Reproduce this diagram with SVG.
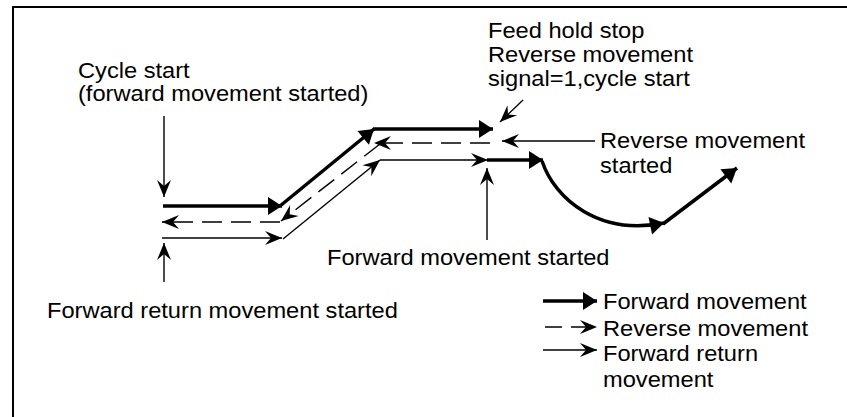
<svg xmlns="http://www.w3.org/2000/svg" width="847" height="417" viewBox="0 0 847 417">
<style>
text{font-family:"Liberation Sans",Arial,sans-serif;font-size:21.5px;fill:#000}
.thick{stroke:#000;stroke-width:3.5;fill:none;marker-end:url(#mThick)}
.dash{stroke:#000;stroke-width:1.4;fill:none;stroke-dasharray:20 9;marker-end:url(#mBarb)}
.thin{stroke:#000;stroke-width:1.4;fill:none;marker-end:url(#mBarb)}
</style>
<defs>
<marker id="mThick" markerUnits="userSpaceOnUse" markerWidth="16" markerHeight="20" refX="14" refY="9" orient="auto" overflow="visible">
<path d="M0,0 L14,9 L0,18 z" fill="#000"/>
</marker>
<marker id="mBarb" markerUnits="userSpaceOnUse" markerWidth="18" markerHeight="16" refX="17" refY="7" orient="auto" overflow="visible">
<path d="M0,0 L17,7 L0,14 L6,7 z" fill="#000"/>
</marker>
</defs>
<rect width="847" height="417" fill="#fff"/>
<path d="M13,417 V7 H847" fill="none" stroke="#000" stroke-width="2"/>
<g id="connectors">
<path class="thick" d="M163,206 L282,206"/>
<path class="thick" d="M280,206 L374,129"/>
<path class="thick" d="M373,129 L493,129"/>
<path class="thick" d="M487,160 L543,160"/>
<path class="thick" d="M542,161 C555,200 600,236 664,223"/>
<path class="thick" d="M663,224 L737,168"/>
<path class="dash" d="M490,143 L374,143"/>
<path class="dash" d="M380,144 L281,221"/>
<path class="dash" d="M280,222 L162,222"/>
<path class="thin" d="M162,238 L282,238"/>
<path class="thin" d="M283,239 L380,160"/>
<path class="thin" d="M380,160 L488,160"/>
<path class="thin" d="M164,116 L164,197"/>
<path class="thin" d="M164,282 L164,243"/>
<path class="thin" d="M487,240 L487,168"/>
<path class="thin" d="M595,141 L502,141"/>
<path class="thin" d="M523,100 L500,122"/>
<path class="thick" d="M543,301 L597,301"/>
<path class="dash" d="M545,327 L597,327" style="stroke-dasharray:17 9"/>
<path class="thin" d="M543,350 L597,350"/>
</g>
<g id="label-cycle-start">
<text transform="matrix(1.1,0,0,1,78,78)">Cycle start</text>
<text transform="matrix(1.1,0,0,1,78,101)">(forward movement started)</text>
</g>
<g id="label-feed-hold">
<text transform="matrix(1.1,0,0,1,488,38)">Feed hold stop</text>
<text transform="matrix(1.1,0,0,1,488,62)">Reverse movement</text>
<text transform="matrix(1.1,0,0,1,488,86)">signal=1,cycle start</text>
</g>
<g id="label-reverse-started">
<text transform="matrix(1.1,0,0,1,600,148)">Reverse movement</text>
<text transform="matrix(1.1,0,0,1,600,173)">started</text>
</g>
<g id="label-forward-started">
<text transform="matrix(1.1,0,0,1,327,265)">Forward movement started</text>
</g>
<g id="label-forward-return-started">
<text transform="matrix(1.1,0,0,1,47,318)">Forward return movement started</text>
</g>
<g id="legend">
<text transform="matrix(1.1,0,0,1,603,309)">Forward movement</text>
<text transform="matrix(1.1,0,0,1,603,336)">Reverse movement</text>
<text transform="matrix(1.1,0,0,1,603,361)">Forward return</text>
<text transform="matrix(1.1,0,0,1,603,387)">movement</text>
</g>
</svg>
